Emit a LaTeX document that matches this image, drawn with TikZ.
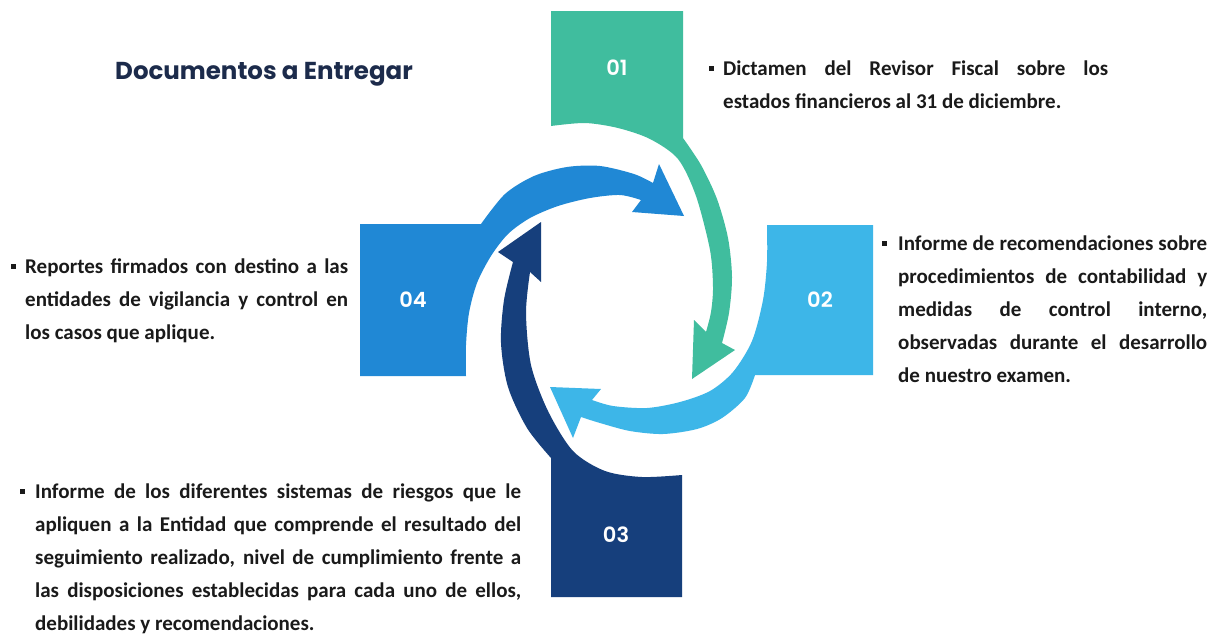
\documentclass[tikz,border=0pt]{standalone}
\usepackage{fontspec}
\setmainfont{Carlito}
\newfontfamily\poppins{Poppins}[UprightFont={* SemiBold}, BoldFont={* Bold}]
\definecolor{cteal}{HTML}{40BD9E}
\definecolor{cblue}{HTML}{2088D5}
\definecolor{cdark}{HTML}{163F7C}
\definecolor{clight}{HTML}{3DB6E8}
\definecolor{ctitle}{HTML}{1C2B4B}
\definecolor{ctext}{HTML}{1A1A1A}
\begin{document}
\begin{tikzpicture}[x=1pt,y=-1pt,
  bodytext/.style={font=\fontsize{21}{33}\selectfont\bfseries, text=ctext, inner sep=0pt, anchor=north west, align=left},
  numlabel/.style={font=\poppins\fontsize{21}{24}\selectfont, text=white},
  bulletsq/.style={fill=ctext, minimum size=5pt, inner sep=0pt},
  titletext/.style={font=\poppins\bfseries\fontsize{24.5}{30}\selectfont, text=ctitle, anchor=base west, inner sep=0pt}]
\useasboundingbox (0,0) rectangle (1213,635);
\fill[white] (0,0) rectangle (1213,635);

% 01 teal
\fill[cteal] (551,11) -- (683,11) -- (683,138)
  -- plot[smooth] coordinates {(683,138) (701,165) (717,199) (728,238) (732,277) (729,313) (722,343)}
  -- (735,350) -- (692,379) -- (694,320)
  -- plot[smooth] coordinates {(706,332) (711,312) (713,287) (710,250) (696,196) (678,159) (650,139) (618,128) (585,123) (551,126)}
  -- cycle;

% 04 blue
\fill[cblue] (360,224) -- (360,376) -- (466,376)
  -- plot[smooth] coordinates {(466,376) (466,345) (469,313) (477,283) (491,256) (508,234) (530,218) (558,206) (590,198) (620,195) (641,200)}
  -- (632,212) -- (684,216) -- (659,164)
  -- plot[smooth] coordinates {(653,183) (634,174) (600,166) (567,167) (534,176) (505,194) (481,224)}
  -- cycle;

% 03 dark
\fill[cdark] (682,597) -- (551,597) -- (551,458)
  -- plot[smooth] coordinates {(551,458) (527,428) (508,387) (501,343) (504,300) (513,262)}
  -- (498,252) -- (541,222) -- (541,282)
  -- plot[smooth] coordinates {(530,272) (526,313) (531,365) (548,411) (573,451) (605,471) (642,477) (682,475)}
  -- cycle;

% 02 light
\fill[clight] (767,225) -- (873,225) -- (873,375) -- (755,375)
  -- plot[smooth] coordinates {(755,375) (745,398) (722,418) (697,429) (663,434) (630,431) (600,423) (581,417)}
  -- (573,438) -- (550,387) -- (601,389)
  -- plot[smooth] coordinates {(592,400) (613,406) (647,408) (680,402) (710,391) (733,372) (752,341) (763,300) (767,262) (767,225)}
  -- cycle;

% labels
\node[numlabel] (n01) at (617,68) {01};
\node[numlabel] (n02) at (820,300) {02};
\node[numlabel] (n03) at (616,535) {03};
\node[numlabel] (n04) at (413,300) {04};

\node[titletext] (title) at (115,79) {Documentos a Entregar};

% text 01
\node[bulletsq] (b01) at (711,68) {};
\node[bodytext] (t01) at (723,61) {\makebox[385pt][s]{Dictamen del Revisor Fiscal sobre los}\\estados financieros al 31 de diciembre.};

% text 02
\node[bulletsq] (b02) at (884,243) {};
\node[bodytext] (t02) at (898,236) {\makebox[309pt][s]{Informe de recomendaciones sobre}\\
\makebox[309pt][s]{procedimientos de contabilidad y}\\
\makebox[309pt][s]{medidas de control interno,}\\
\makebox[309pt][s]{observadas durante el desarrollo}\\
de nuestro examen.};

% text 04
\node[bulletsq] (b04) at (13,266) {};
\node[bodytext] (t04) at (25,259) {\makebox[323pt][s]{Reportes firmados con destino a las}\\
\makebox[323pt][s]{entidades de vigilancia y control en}\\
los casos que aplique.};

% text 03
\node[bulletsq] (b03) at (22,491) {};
\node[bodytext] (t03) at (35,484) {\makebox[486pt][s]{Informe de los diferentes sistemas de riesgos que le}\\
\makebox[486pt][s]{apliquen a la Entidad que comprende el resultado del}\\
\makebox[486pt][s]{seguimiento realizado, nivel de cumplimiento frente a}\\
\makebox[486pt][s]{las disposiciones establecidas para cada uno de ellos,}\\
debilidades y recomendaciones.};
\end{tikzpicture}
\end{document}
